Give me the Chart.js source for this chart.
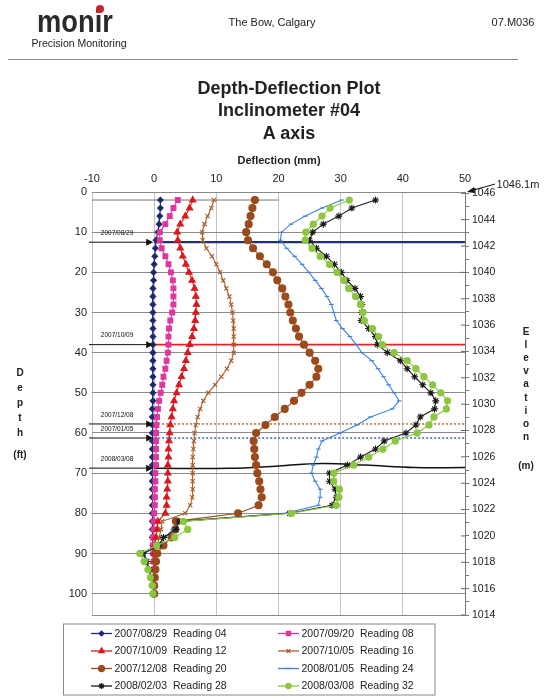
<!DOCTYPE html>
<html><head><meta charset="utf-8">
<script src="https://cdn.jsdelivr.net/npm/chart.js@4.4.1/dist/chart.umd.min.js"></script>
<style>
html,body{margin:0;padding:0;background:#fff;}
#wrap{position:relative;width:552px;height:700px;overflow:hidden;font-family:"Liberation Sans",Arial,sans-serif;color:#222;}
#c{position:absolute;left:0;top:0;}
.t{position:absolute;white-space:pre;transform:translate(-50%,-50%);line-height:1;}
.b{font-weight:bold;}
</style></head><body>
<div id="wrap">
<canvas id="c" width="552" height="700" style="width:552px;height:700px"></canvas>
<div class="t b" style="left:75px;top:21px;font-size:31px;color:#2a2a2a;transform:translate(-50%,-50%) scale(0.88,1)">monir</div>
<div style="position:absolute;left:96px;top:5px;width:8px;height:8px;border-radius:50% 50% 50% 10%;background:#c0282d"></div>
<div class="t" style="left:79px;top:43px;font-size:10.5px">Precision Monitoring</div>
<div class="t" style="left:272px;top:22px;font-size:11px">The Bow, Calgary</div>
<div class="t" style="left:513px;top:22px;font-size:11px">07.M036</div>
<div style="position:absolute;left:8px;top:59px;width:510px;height:0;border-top:1.5px solid #8a8a8a"></div>
<div class="t b" style="left:289px;top:88px;font-size:18px">Depth-Deflection Plot</div>
<div class="t b" style="left:289px;top:110px;font-size:18px">Inclinometer #04</div>
<div class="t b" style="left:289px;top:133px;font-size:18px">A axis</div>
<div class="t b" style="left:279px;top:160px;font-size:11px">Deflection (mm)</div>
<div id="depthLbl"></div>
<div id="elevLbl"></div>
<div class="t" style="left:518px;top:184px;font-size:11px">1046.1m</div>
</div>
<script>
// ---------------- data ----------------
const depths = [2,4,6,8,10,12,14,16,18,20,22,24,26,28,30,32,34,36,38,40,42,44,46,48,50,
                52,54,56,58,60,62,64,66,68,70,72,74,76,78,80,82,84,86,88,90,92,94,96,98,100];
const deflTicks = [-10,0,10,20,30,40,50];
const depthTicks = [0,10,20,30,40,50,60,70,80,90,100];
const elevTicks = [1014,1016,1018,1020,1022,1024,1026,1028,1030,1032,1034,1036,1038,1040,1042,1044,1046];
const topElevation = 1046.1;
const ftToM = 0.3048;

const seriesLabels = [
  '2007/08/29  Reading 04','2007/09/20  Reading 08',
  '2007/10/09  Reading 12','2007/10/05  Reading 16',
  '2007/12/08  Reading 20','2008/01/05  Reading 24',
  '2008/02/03  Reading 28','2008/03/08  Reading 32'];

const reading04 = [1.0,1.0,0.9,0.8,0.6,0.3,0.2,0.1,0.0,-0.1,-0.1,-0.2,-0.2,-0.2,-0.2,-0.2,-0.2,-0.2,-0.2,-0.2,-0.2,-0.2,-0.2,-0.2,-0.2,
                   -0.2,-0.3,-0.3,-0.3,-0.3,-0.3,-0.3,-0.3,-0.3,-0.3,-0.3,-0.3,-0.3,-0.3,-0.3,-0.3,-0.3,-0.3,-0.2,-0.2,-0.1,-0.1,0,0,0];
const reading08 = [3.8,3.1,2.5,1.8,0.9,0.9,1.2,1.8,2.3,2.7,3.0,3.1,3.1,3.1,2.9,2.6,2.4,2.3,2.3,2.2,2.0,1.8,1.5,1.3,1.05,
                   0.8,0.6,0.45,0.35,0.3,0.3,0.3,0.3,0.3,0.2,0.2,0.1,0.1,0.1,0.0,-0.1,-0.1,-0.2,-0.2,-0.1,-0.1,0,0,0,0];
const reading12 = [6.2,5.7,5.0,4.2,3.7,3.8,4.2,4.6,5.1,5.6,6.1,6.5,6.7,6.8,6.7,6.6,6.4,6.1,5.7,5.4,5.1,4.8,4.4,4.0,3.6,
                   3.2,3.0,2.8,2.6,2.5,2.4,2.3,2.3,2.2,2.2,2.2,2.1,2.0,2.0,1.8,0.6,0.5,0.3,0.1,0,0,0,0,0,0];
const reading16 = [9.6,9.2,8.6,8.1,7.7,7.8,8.4,9.3,10.0,10.6,11.1,11.6,12.1,12.4,12.6,12.7,12.8,12.8,12.8,12.8,12.4,11.7,10.8,9.8,8.7,
                   7.9,7.4,7.0,6.7,6.5,6.4,6.3,6.2,6.2,6.2,6.2,6.2,6.1,5.8,5.0,1.3,1.1,0.8,0.5,0.2,0.1,0,0,0,0];
const reading20 = [16.2,15.8,15.5,15.2,14.8,15.1,15.9,17.0,18.1,19.1,19.8,20.6,21.1,21.6,21.9,22.3,22.8,23.3,24.1,25.0,25.9,26.4,26.1,25.0,23.7,
                   22.5,21.0,19.4,17.9,16.4,16.0,16.1,16.2,16.4,16.6,16.9,17.1,17.3,16.8,13.5,3.5,3.4,2.8,1.5,0.5,0.3,0.2,0.1,0,0];
const reading24 = [30.2,27.0,24.3,22.0,20.5,20.3,21.3,22.6,23.8,24.9,25.9,26.9,27.8,28.5,28.9,29.3,30.3,31.5,32.5,33.4,35.0,36.0,36.9,37.7,38.6,
                   39.4,38.3,34.8,32.6,29.9,27.0,26.4,26.1,25.6,25.3,25.9,26.7,26.7,26.4,21.0,4.2,3.0,1.8,0.5,-1.5,-1.2,-0.8,-0.5,-0.3,0];
const reading28 = [35.6,31.8,29.7,27.2,25.5,25.0,26.1,27.7,29.0,30.1,31.0,32.3,33.2,33.4,33.4,33.3,34.5,35.6,35.9,37.5,39.6,40.7,41.9,43.2,44.5,
                   45.3,45.1,42.8,42.1,40.5,37.0,35.6,33.2,31.1,28.2,28.2,29.1,29.3,28.6,21.8,4.0,3.5,1.5,0.8,-1.8,-1.2,-0.8,-0.5,-0.3,-0.2];
const reading32 = [31.4,28.3,27.0,25.6,24.4,24.3,25.4,26.7,28.2,29.4,30.5,31.3,32.4,33.2,33.6,33.8,35.1,36.1,36.7,38.6,40.7,42.1,43.4,44.8,46.1,
                   47.2,47.0,45.0,44.2,42.3,38.8,36.8,34.5,32.1,28.9,28.9,29.8,29.7,29.3,22.1,4.7,5.4,3.3,0.4,-2.3,-1.6,-1.0,-0.6,-0.3,-0.2];

const markerDates  = ['2007/08/29','2007/10/09','2007/12/08','2007/01/05','2008/03/08'];
const markerDepths = [12.5, 38, 57.75, 61.25, 68.75];
const wavyX     = [0, 12, 20, 27, 34, 42, 50];
const wavyDepth = [68.8, 68.8, 68.2, 67.6, 68.0, 68.6, 68.6];
const topRefX = [-10, 20];
const topRefDepth = 2;

// --------------- styles ---------------
const seriesStyle = [
  {c:'#1c2b6e', ps:'rectRot', r:2.8},
  {c:'#e0379c', ps:'rect', r:3.4},
  {c:'#d8191f', ps:'triangle', r:3.6},
  {c:'#a85f2c', ps:'crossRot', r:3.0},
  {c:'#9a4a1c', ps:'circle', r:3.5},
  {c:'#3d7fd9', ps:'line', r:2.3},
  {c:'#1a1a1a', ps:'star', r:3.5},
  {c:'#8dc63f', ps:'circle', r:3.1}
];
const markerStyle = [
  {c:'#23306e', w:2.2, dash:[]},
  {c:'#e3232b', w:1.6, dash:[]},
  {c:'#b5692f', w:1.5, dash:[2,2]},
  {c:'#3366cc', w:1.5, dash:[2,2]},
  {c:'#111111', w:1.5, dash:[]}
];

const allReadings = [reading04,reading08,reading12,reading16,reading20,reading24,reading28,reading32];

// stacked axis titles
(function(){
  const d = document.getElementById('depthLbl');
  const dl = ['D','e','p','t','h'];
  let h='';
  dl.forEach((ch,i)=>{h+=`<div class="t b" style="left:20px;top:${373+i*15}px;font-size:10px">${ch}</div>`;});
  h+=`<div class="t b" style="left:20px;top:455px;font-size:10px">(ft)</div>`;
  d.innerHTML=h;
  const e = document.getElementById('elevLbl');
  const el = ['E','l','e','v','a','t','i','o','n'];
  h='';
  el.forEach((ch,i)=>{h+=`<div class="t b" style="left:526px;top:${332+i*13.1}px;font-size:10px">${ch}</div>`;});
  h+=`<div class="t b" style="left:526px;top:466px;font-size:10px">(m)</div>`;
  e.innerHTML=h;
})();

const datasets = [];
allReadings.forEach((arr,i)=>{
  const s = seriesStyle[i];
  datasets.push({
    label: seriesLabels[i],
    data: arr.map((v,k)=>({x:v, y:depths[k]})),
    showLine:true, borderColor:s.c, backgroundColor:s.c, borderWidth:1.1,
    pointStyle:s.ps, pointRadius:s.r, pointBorderColor:s.c, pointBackgroundColor:s.c,
    pointBorderWidth:1.1, yAxisID:'y', order: 8-i
  });
});
markerDepths.forEach((d,i)=>{
  const m = markerStyle[i];
  let data;
  if (i === markerDepths.length-1) data = wavyX.map((x,k)=>({x:x, y:wavyDepth[k]}));
  else data = [{x:0,y:d},{x:50,y:d}];
  datasets.push({label:'marker '+markerDates[i], data, showLine:true, borderColor:m.c, borderWidth:m.w,
    borderDash:m.dash, pointRadius:0, tension: i===markerDepths.length-1?0.4:0, yAxisID:'y', order:20});
});
datasets.push({label:'ref', data: topRefX.map(x=>({x:x,y:topRefDepth})), showLine:true, borderColor:'#777',
  borderWidth:1, pointRadius:0, yAxisID:'y', order:21});

const FONT = '"Liberation Sans", Arial, sans-serif';

const overlay = {
  id:'overlay',
  afterDraw(chart){
    const ctx = chart.ctx, xs = chart.scales.x, ys = chart.scales.y, y2 = chart.scales.y2;
    ctx.save();
    // arrows & labels
    const x0 = xs.getPixelForValue(-10) - 3, x1 = xs.getPixelForValue(0) - 1;
    markerDepths.forEach((d,i)=>{
      const y = ys.getPixelForValue(d);
      ctx.strokeStyle='#111'; ctx.fillStyle='#111'; ctx.lineWidth=1; ctx.setLineDash([]);
      ctx.beginPath(); ctx.moveTo(x0,y); ctx.lineTo(x1-6,y); ctx.stroke();
      ctx.beginPath(); ctx.moveTo(x1,y); ctx.lineTo(x1-7,y-3.5); ctx.lineTo(x1-7,y+3.5); ctx.closePath(); ctx.fill();
      ctx.font = '6.5px '+FONT; ctx.textAlign='center'; ctx.textBaseline='middle';
      ctx.fillText(markerDates[i], (x0+x1)/2 - 4, y - 9);
    });
    // right axis major tick crossing
    ctx.strokeStyle='#666'; ctx.lineWidth=1;
    elevTicks.forEach(v=>{
      const y = y2.getPixelForValue(v);
      ctx.beginPath(); ctx.moveTo(y2.left-4, y); ctx.lineTo(y2.left, y); ctx.stroke();
    });
    // 1046.1m arrow
    const tx = xs.right + 30, ty = ys.top - 8;
    const ax = xs.right + 2, ay = ys.top;
    ctx.strokeStyle='#111'; ctx.fillStyle='#111';
    ctx.beginPath(); ctx.moveTo(tx, ty); ctx.lineTo(ax+5, ay-1.5); ctx.stroke();
    ctx.beginPath(); ctx.moveTo(ax, ay); ctx.lineTo(ax+7, ay-5); ctx.lineTo(ax+8, ay+1); ctx.closePath(); ctx.fill();
    // legend
    const lx = 63.5, ly = 624, lw = 371.5, lh = 71;
    ctx.strokeStyle='#888'; ctx.lineWidth=1;
    ctx.strokeRect(lx, ly, lw, lh);
    const colLine = [91, 278], rowY = [633.5, 651, 668.5, 686];
    for (let i=0;i<8;i++){
      const col = i%2, row = Math.floor(i/2), s = seriesStyle[i];
      const y = rowY[row], xa = colLine[col], xb = xa+21;
      ctx.strokeStyle = s.c; ctx.lineWidth = 1.3;
      ctx.beginPath(); ctx.moveTo(xa,y); ctx.lineTo(xb,y); ctx.stroke();
      ctx.fillStyle = s.c;
      if (Chart.helpers && Chart.helpers.drawPoint) {
        Chart.helpers.drawPoint(ctx, {pointStyle:s.ps, radius:s.r*0.85, borderWidth:1.2, rotation:0}, (xa+xb)/2, y);
      }
      ctx.fillStyle='#222'; ctx.font='10.5px '+FONT; ctx.textAlign='left'; ctx.textBaseline='middle';
      ctx.fillText(seriesLabels[i], xb+2.5, y+0.5);
    }
    ctx.restore();
  }
};

new Chart(document.getElementById('c'), {
  type:'scatter',
  data:{datasets},
  options:{
    responsive:false, animation:false, devicePixelRatio:1,
    layout:{padding:{left:0,right:0,top:0,bottom:85}},
    plugins:{legend:{display:false}, tooltip:{enabled:false}},
    elements:{line:{tension:0}},
    scales:{
      x:{type:'linear', position:'top', min:-10, max:50,
         afterBuildTicks(s){ s.ticks = deflTicks.map(v=>({value:v})); },
         afterFit(s){ s.height = 192; },
         ticks:{font:{size:11, family:FONT}, color:'#222', padding:6},
         grid:{color:'#c4c4c4', lineWidth:1, drawTicks:false},
         border:{display:false}},
      y:{type:'linear', position:'left', reverse:true, min:0, max:(topElevation-1014)/ftToM,
         afterBuildTicks(s){ s.ticks = depthTicks.map(v=>({value:v})).concat([{value:s.max}]); },
         afterFit(s){ s.width = 92; },
         ticks:{font:{size:11, family:FONT}, color:'#222', padding:5,
                callback:(v)=> depthTicks.includes(v) ? String(v) : ''},
         grid:{color:'#8a8a8a', lineWidth:1, drawTicks:false},
         border:{display:false}},
      y2:{type:'linear', position:'right', min:1014, max:topElevation,
         afterBuildTicks(s){ const t=[]; for(let v=elevTicks[0]; v<=elevTicks[elevTicks.length-1]; v++) t.push({value:v}); s.ticks=t; },
         afterFit(s){ s.width = 87; },
         ticks:{font:{size:10.5, family:FONT}, color:'#222', padding:3, autoSkip:false,
                callback:(v)=> elevTicks.includes(v) ? String(v) : ''},
         grid:{drawOnChartArea:false, drawTicks:true, tickLength:4, color:'#777', tickColor:'#777'},
         border:{display:true, color:'#777', width:1}}
    }
  },
  plugins:[overlay]
});
</script>
</body></html>
